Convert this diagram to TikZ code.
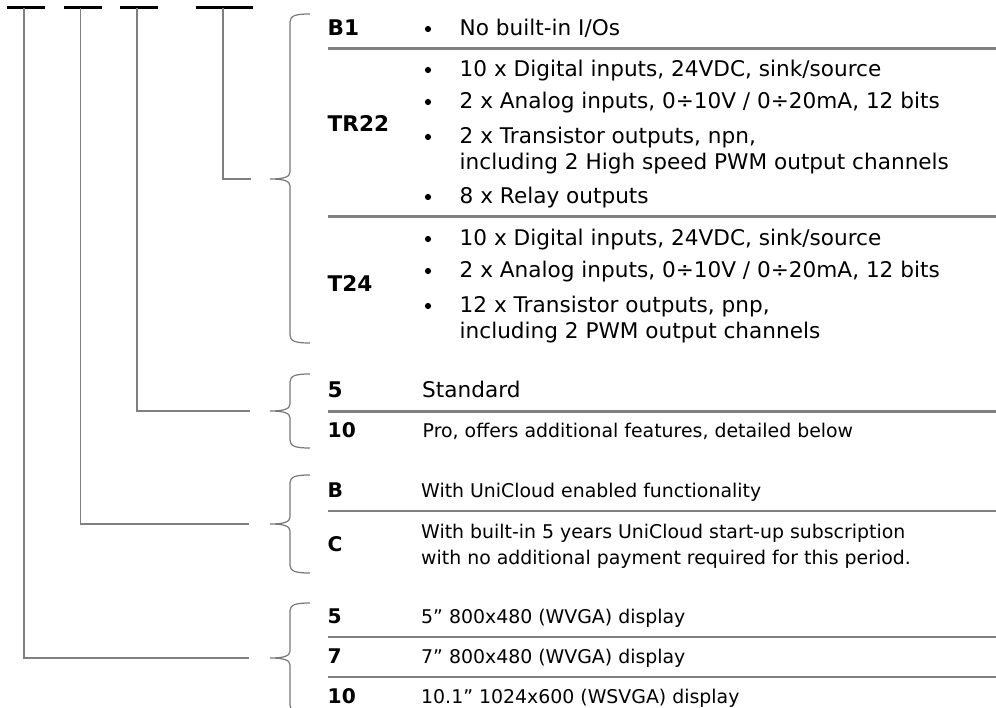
\documentclass[tikz,border=0pt]{standalone}
\usepackage{fontspec}
\setmainfont{DejaVu Sans}
\definecolor{rulegray}{RGB}{128,128,128}
\definecolor{bracegray}{RGB}{120,120,120}
\newcommand\BraceDraw[3]{%
  \draw[bracestroke] (310,#1) .. controls (296,#1) and (290,#1+1.5) .. (290,#1+8)
    -- (290,#2-7) .. controls (290,#2-2) and (284,#2) .. (270,#2)
    .. controls (284,#2) and (290,#2+2) .. (290,#2+7)
    -- (290,#3-8) .. controls (290,#3-1.5) and (296,#3) .. (310,#3);}
\begin{document}
\begin{tikzpicture}[x=1pt,y=-1pt,
  txt/.style={anchor=base west, inner sep=0pt, align=left, font=\fontsize{21.6}{26}\selectfont},
  txtsm/.style={anchor=base west, inner sep=0pt, align=left, font=\fontsize{18.9}{26}\selectfont},
  lbl/.style={txt, font=\fontsize{21.6}{26}\selectfont\bfseries},
  lblsm/.style={txt, font=\fontsize{20.2}{26}\selectfont\bfseries},
  bul/.style={circle, fill=black, inner sep=0pt, minimum size=6.2pt},
  topbar/.style={line width=2.6pt, black},
  conn/.style={line width=1.2pt, rulegray},
  sepline/.style={line width=2.2pt, rulegray},
  bracestroke/.style={line width=1.2pt, bracegray}]
\useasboundingbox (0,0) rectangle (996,708);
\clip (0,0) rectangle (996,708);

% top bars
\draw[topbar] (7,7.5) -- (45,7.5);
\draw[topbar] (64,7.5) -- (102,7.5);
\draw[topbar] (120,7.5) -- (158,7.5);
\draw[topbar] (196,7.5) -- (253,7.5);

% connector coordinates
\coordinate (v1) at (24,8.5);
\coordinate (v2) at (80.5,8.5);
\coordinate (v3) at (137,8.5);
\coordinate (v4) at (223,8.5);
\coordinate (e1) at (249,658);
\coordinate (e2) at (249,524);
\coordinate (e3) at (250,411);
\coordinate (e4) at (251,179);
\draw[conn] (v1) |- (e1);
\draw[conn] (v2) |- (e2);
\draw[conn] (v3) |- (e3);
\draw[conn] (v4) |- (e4);

% braces
\BraceDraw{14}{179}{343}
\BraceDraw{374}{411}{448}
\BraceDraw{475}{524}{573}
\BraceDraw{603}{658}{713}

% separators
\foreach \yy in {48.5,216.5,411.5,511,637,677}
  \draw[sepline] (328,\yy) -- (996,\yy);

% B1
\node[lbl] (lB1) at (327.5,36) {B1};
\node[bul] (bB1) at (428,29) {};
\node[txt] (tB1) at (459.5,36) {No built-in I/Os};

% TR22
\node[lbl] (lTR) at (327.5,132) {TR22};
\node[bul] (bTR1) at (428,70) {};
\node[txt] (tTR1) at (459.5,77) {10 x Digital inputs, 24VDC, sink/source};
\node[bul] (bTR2) at (428,102) {};
\node[txt] (tTR2) at (459.5,109) {2 x Analog inputs, 0÷10V / 0÷20mA, 12 bits};
\node[bul] (bTR3) at (428,137) {};
\node[txt] (tTR3) at (459.5,170) {2 x Transistor outputs, npn,\\including 2 High speed PWM output channels};
\node[bul] (bTR4) at (428,197) {};
\node[txt] (tTR4) at (459.5,204) {8 x Relay outputs};

% T24
\node[lbl] (lT24) at (327.5,292) {T24};
\node[bul] (bT1) at (428,239) {};
\node[txt] (tT1) at (459.5,246) {10 x Digital inputs, 24VDC, sink/source};
\node[bul] (bT2) at (428,271) {};
\node[txt] (tT2) at (459.5,278) {2 x Analog inputs, 0÷10V / 0÷20mA, 12 bits};
\node[bul] (bT3) at (428,306) {};
\node[txt] (tT3) at (459.5,339) {12 x Transistor outputs, pnp,\\including 2 PWM output channels};

% 5 / 10
\node[lbl] (l5s) at (327.5,398) {5};
\node[txt] (t5s) at (422,398) {Standard};
\node[lblsm] (l10p) at (327.5,437) {10};
\node[txtsm] (t10p) at (422.5,437) {Pro, offers additional features, detailed below};

% B / C
\node[lblsm] (lB) at (327.5,497) {B};
\node[txtsm] (tB) at (421,497) {With UniCloud enabled functionality};
\node[lblsm] (lC) at (327.5,551) {C};
\node[txtsm] (tC) at (421,564) {With built-in 5 years UniCloud start-up subscription\\with no additional payment required for this period.};

% displays
\node[lblsm] (l5d) at (327.5,623) {5};
\node[txtsm] (t5d) at (421,623) {5” 800x480 (WVGA) display};
\node[lblsm] (l7d) at (327.5,663) {7};
\node[txtsm] (t7d) at (421,663) {7” 800x480 (WVGA) display};
\node[lblsm] (l10d) at (327.5,703) {10};
\node[txtsm] (t10d) at (421,703) {10.1” 1024x600 (WSVGA) display};
\end{tikzpicture}
\end{document}
